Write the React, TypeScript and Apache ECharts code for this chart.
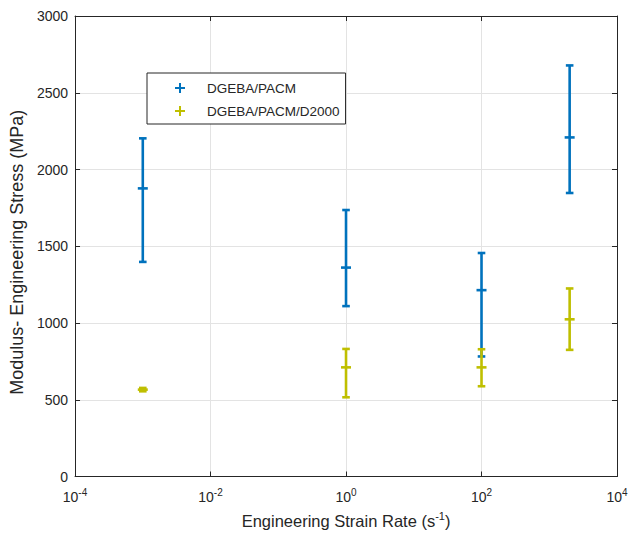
import React, { useEffect, useRef } from "react";
import * as echarts from "echarts";

const strainRates = [1e-3, 1, 100, 2000];
const pacmMean = [1877, 1361, 1214, 2209];
const pacmLow = [1398, 1110, 782, 1847];
const pacmHigh = [2203, 1736, 1456, 2678];
const d2000Mean = [566, 711, 711, 1024];
const d2000Low = [555, 516, 588, 825];
const d2000High = [577, 831, 829, 1225];
const xTickExponents = [-4, -2, 0, 2, 4];
const seriesNames = ["DGEBA/PACM", "DGEBA/PACM/D2000"];

const BLUE = "#0072BD";
const YELLOW = "#BFBF00";
const AXIS = "#262626";
const GRIDC = "#e3e3e3";
const FONT = "'Liberation Sans', Arial, sans-serif";

function buildData(mean: number[], low: number[], high: number[]) {
  return strainRates.map((r, i) => [Math.log10(r), low[i], mean[i], high[i]]);
}

function makeRenderItem(color: string) {
  return (params: any, api: any) => {
    const x = api.value(0);
    const pLo = api.coord([x, api.value(1)]);
    const pMid = api.coord([x, api.value(2)]);
    const pHi = api.coord([x, api.value(3)]);
    const st = { stroke: color, lineWidth: 2.6 };
    const cap = 3.8;
    const mid = 5;
    return {
      type: "group",
      children: [
        { type: "line", shape: { x1: pLo[0], y1: pLo[1], x2: pHi[0], y2: pHi[1] }, style: st },
        { type: "line", shape: { x1: pLo[0] - cap, y1: pLo[1], x2: pLo[0] + cap, y2: pLo[1] }, style: st },
        { type: "line", shape: { x1: pHi[0] - cap, y1: pHi[1], x2: pHi[0] + cap, y2: pHi[1] }, style: st },
        { type: "line", shape: { x1: pMid[0] - mid, y1: pMid[1], x2: pMid[0] + mid, y2: pMid[1] }, style: st },
      ],
    };
  };
}

const plusIcon = "path://M4,0H6V4H10V6H6V10H4V6H0V4H4Z";

export default function App() {
  const ref = useRef<HTMLDivElement>(null);
  useEffect(() => {
    if (!ref.current) return;
    document.body.style.margin = "0";
    document.body.style.overflow = "hidden";
    const chart = echarts.init(ref.current, undefined, { renderer: "svg" });
    const yAxisBase = {
      type: "value",
      min: 0,
      max: 3000,
      interval: 500,
      axisTick: { inside: true, length: 5, lineStyle: { color: AXIS } },
      axisLine: { show: true, onZero: false, lineStyle: { color: AXIS, width: 1 } },
    };
    const xAxisBase = {
      type: "value",
      min: -4,
      max: 4,
      interval: 2,
      axisTick: { inside: true, length: 5, lineStyle: { color: AXIS } },
      axisLine: { show: true, onZero: false, lineStyle: { color: AXIS, width: 1 } },
    };
    chart.setOption({
      animation: false,
      backgroundColor: "#ffffff",
      textStyle: { fontFamily: FONT },
      grid: { left: 73, right: 16, top: 16, bottom: 55, containLabel: false },
      legend: {
        left: 147,
        top: 73,
        orient: "vertical",
        backgroundColor: "#ffffff",
        borderColor: AXIS,
        borderWidth: 1,
        padding: [8, 6, 6, 28],
        itemWidth: 10,
        itemHeight: 10,
        itemGap: 9,
        icon: plusIcon,
        data: seriesNames,
        textStyle: { color: AXIS, fontSize: 13.5, fontFamily: FONT, padding: [0, 0, 0, 17] },
      },
      xAxis: [
        {
          ...xAxisBase,
          position: "bottom",
          name: "Engineering Strain Rate (s{sup|-1})",
          nameLocation: "middle",
          nameGap: 34,
          nameTextStyle: {
            color: AXIS,
            fontSize: 16.5,
            fontFamily: FONT,
            rich: { sup: { fontSize: 11, color: AXIS, fontFamily: FONT, padding: [0, 0, 9, 0] } },
          },
          splitLine: { show: true, lineStyle: { color: GRIDC, width: 1 } },
          axisLabel: {
            margin: 11,
            color: AXIS,
            fontSize: 14,
            fontFamily: FONT,
            customValues: xTickExponents,
            formatter: (v: number) => `{b|10}{s|${v}}`,
            rich: {
              b: { fontSize: 14, color: AXIS, fontFamily: FONT },
              s: { fontSize: 10, color: AXIS, fontFamily: FONT, padding: [0, 0, 8, 0] },
            },
          },
        },
        {
          ...xAxisBase,
          position: "top",
          axisLabel: { show: false },
          splitLine: { show: false },
        },
      ],
      yAxis: [
        {
          ...yAxisBase,
          position: "left",
          name: "Modulus- Engineering Stress (MPa)",
          nameLocation: "middle",
          nameGap: 44,
          nameTextStyle: { color: AXIS, fontSize: 18, fontFamily: FONT, padding: [0, 12, 0, 0] },
          splitLine: { show: true, lineStyle: { color: GRIDC, width: 1 } },
          axisLabel: { margin: 7, color: AXIS, fontSize: 14, fontFamily: FONT, formatter: (v: number) => String(v) },
        },
        {
          ...yAxisBase,
          position: "right",
          axisLabel: { show: false },
          splitLine: { show: false },
        },
      ],
      series: [
        {
          name: seriesNames[0],
          type: "custom",
          itemStyle: { color: BLUE },
          renderItem: makeRenderItem(BLUE),
          encode: { x: 0, y: [1, 2, 3] },
          data: buildData(pacmMean, pacmLow, pacmHigh),
          z: 2,
        },
        {
          name: seriesNames[1],
          type: "custom",
          itemStyle: { color: YELLOW },
          renderItem: makeRenderItem(YELLOW),
          encode: { x: 0, y: [1, 2, 3] },
          data: buildData(d2000Mean, d2000Low, d2000High),
          z: 3,
        },
      ],
    });
    return () => chart.dispose();
  }, []);
  return <div ref={ref} style={{ width: 633, height: 534, position: "absolute", left: 0, top: 0, overflow: "hidden" }} />;
}
